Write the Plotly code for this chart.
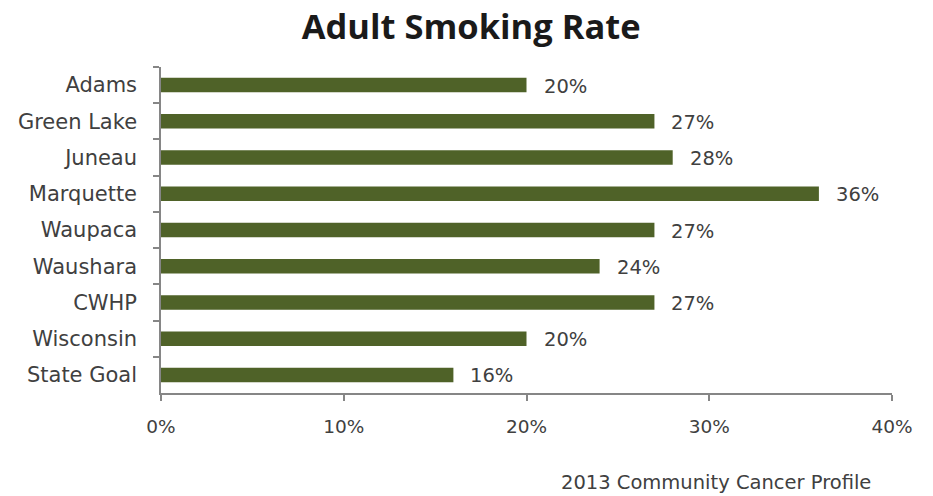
import plotly.graph_objects as go

# Adult smoking rate by county / region (share of adults)
categories = ["Adams", "Green Lake", "Juneau", "Marquette", "Waupaca",
              "Waushara", "CWHP", "Wisconsin", "State Goal"]
rates = [0.20, 0.27, 0.28, 0.36, 0.27, 0.24, 0.27, 0.20, 0.16]
tick_vals = [0.0, 0.1, 0.2, 0.3, 0.4]
tick_text = ["0%", "10%", "20%", "30%", "40%"]

BAR = "#4f6228"
AXIS = "#868686"
TEXT = "#404040"
FONT = "DejaVu Sans"
TITLE_FONT = "Open Sans"

fig = go.Figure()
fig.add_trace(go.Bar(
    x=rates,
    y=categories,
    orientation="h",
    marker=dict(color=BAR, line=dict(width=0)),
    hoverinfo="skip",
))

# value labels to the right of each bar
for cat, v in zip(categories, rates):
    fig.add_annotation(
        x=v, y=cat, xref="x", yref="y",
        text=f"{round(v * 100)}%",
        showarrow=False, xanchor="left", yanchor="middle",
        xshift=15, yshift=-1,
        font=dict(family=FONT, size=19.5, color=TEXT),
    )

fig.add_annotation(
    x=0.974, y=-0.276, xref="paper", yref="paper",
    xanchor="right", yanchor="middle",
    text="2013 Community Cancer Profile", showarrow=False,
    font=dict(family=FONT, size=19.5, color=TEXT),
)

fig.update_layout(
    width=933, height=496,
    margin=dict(l=161, r=41, t=67, b=103),
    paper_bgcolor="white", plot_bgcolor="white",
    bargap=0.6,
    showlegend=False,
    title=dict(
        text="<b>Adult Smoking Rate</b>",
        x=0.505, xanchor="center", y=0.945, yanchor="middle",
        font=dict(family=TITLE_FONT, size=34.5, color="#1a1a1a"),
    ),
    xaxis=dict(
        range=[0, 0.4], tickvals=tick_vals, ticktext=tick_text,
        showgrid=False, zeroline=False,
        showline=True, linecolor=AXIS, linewidth=1.5,
        ticks="outside", ticklen=6, tickcolor=AXIS, tickwidth=1.5,
        ticklabelstandoff=10,
        tickfont=dict(family=FONT, size=18.5, color=TEXT),
    ),
    yaxis=dict(
        categoryorder="array", categoryarray=categories,
        autorange="reversed",
        showgrid=False, zeroline=False,
        showline=True, linecolor=AXIS, linewidth=1.5,
        ticks="outside", ticklen=6, tickcolor=AXIS, tickwidth=1.5,
        tickson="boundaries",
        ticklabelstandoff=18,
        tickfont=dict(family=FONT, size=21, color=TEXT),
    ),
)

fig.write_html("out.html")
